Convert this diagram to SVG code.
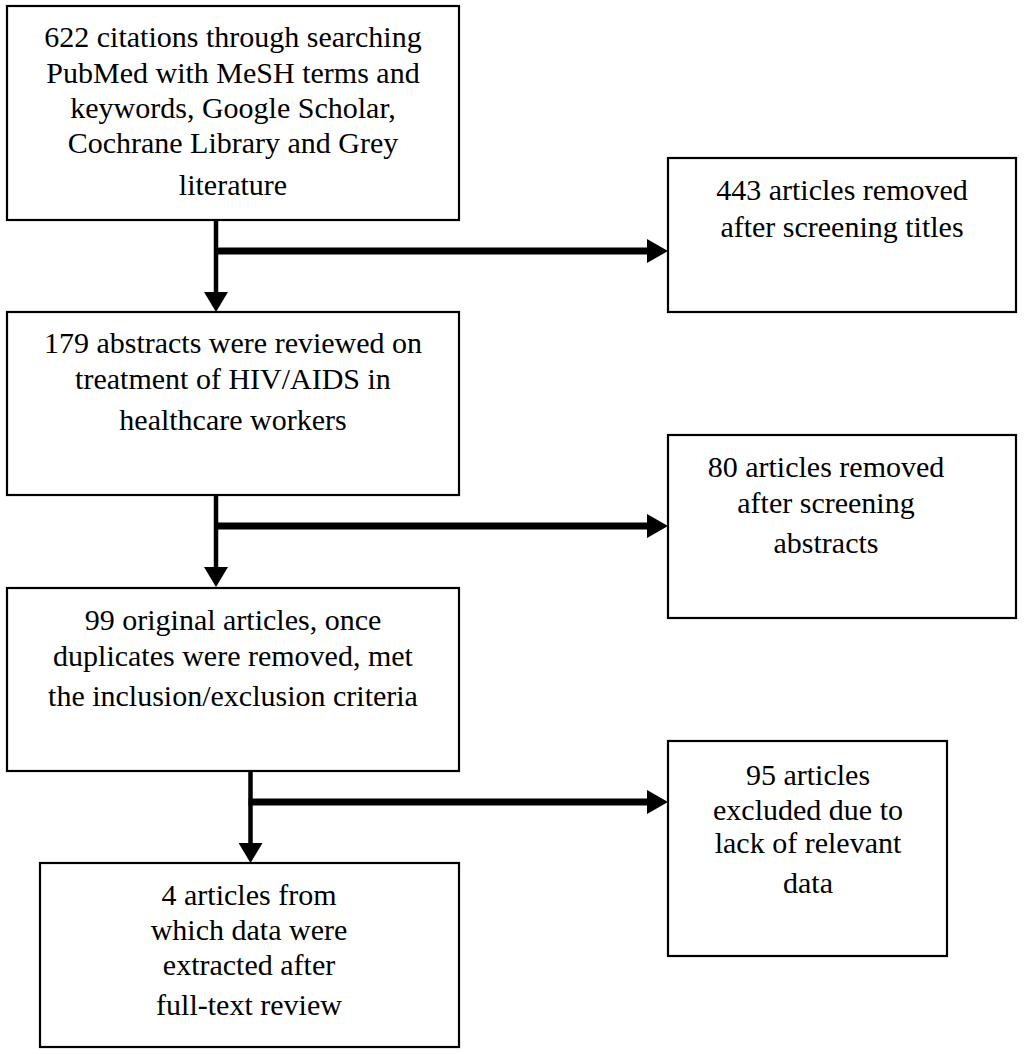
<svg xmlns="http://www.w3.org/2000/svg" width="1024" height="1054" viewBox="0 0 1024 1054">
<defs>
<style>
.box{fill:#fff;stroke:#000;stroke-width:2.2}
.t{font-family:"Liberation Serif","Times New Roman",serif;font-size:30px;fill:#000;text-anchor:middle}
.v{fill:none;stroke:#000;stroke-width:4.5}
.h{fill:none;stroke:#000;stroke-width:7}
</style>
<marker id="ah" viewBox="0 0 21 24" refX="5" refY="12" markerWidth="21" markerHeight="24" markerUnits="userSpaceOnUse" orient="auto">
<path d="M0,0 L21,12 L0,24 Z" fill="#000"/>
</marker>
<marker id="av" viewBox="0 0 20 24" refX="6" refY="12" markerWidth="20" markerHeight="24" markerUnits="userSpaceOnUse" orient="auto">
<path d="M0,0 L20,12 L0,24 Z" fill="#000"/>
</marker>
</defs>
<rect width="1024" height="1054" fill="#fff"/>
<g id="connectors">
<path class="v" d="M216,219 V298" marker-end="url(#av)"/>
<path class="h" d="M214,251 H652" marker-end="url(#ah)"/>
<path class="v" d="M216,493 V573" marker-end="url(#av)"/>
<path class="h" d="M214,526 H652" marker-end="url(#ah)"/>
<path class="v" d="M250.5,770 V849" marker-end="url(#av)"/>
<path class="h" d="M248.5,802 H652" marker-end="url(#ah)"/>
</g>
<g id="n1">
<rect class="box" x="7" y="6" width="452" height="214"/>
<text class="t" x="233" y="47">622 citations through searching</text>
<text class="t" x="233" y="83">PubMed with MeSH terms and</text>
<text class="t" x="233" y="118">keywords, Google Scholar,</text>
<text class="t" x="233" y="153">Cochrane Library and Grey</text>
<text class="t" x="233" y="195">literature</text>
</g>
<g id="n2">
<rect class="box" x="668" y="158" width="348" height="154"/>
<text class="t" x="842" y="200">443 articles removed</text>
<text class="t" x="842" y="237">after screening titles</text>
</g>
<g id="n3">
<rect class="box" x="7" y="312" width="452" height="183"/>
<text class="t" x="233" y="353">179 abstracts were reviewed on</text>
<text class="t" x="233" y="389">treatment of HIV/AIDS in</text>
<text class="t" x="233" y="430">healthcare workers</text>
</g>
<g id="n4">
<rect class="box" x="668" y="435" width="348" height="183"/>
<text class="t" x="826" y="477">80 articles removed</text>
<text class="t" x="826" y="513">after screening</text>
<text class="t" x="826" y="553">abstracts</text>
</g>
<g id="n5">
<rect class="box" x="7" y="588" width="452" height="183"/>
<text class="t" x="233" y="630">99 original articles, once</text>
<text class="t" x="233" y="666">duplicates were removed, met</text>
<text class="t" x="233" y="706">the inclusion/exclusion criteria</text>
</g>
<g id="n6">
<rect class="box" x="668" y="741" width="279" height="215"/>
<text class="t" x="808" y="785">95 articles</text>
<text class="t" x="808" y="820">excluded due to</text>
<text class="t" x="808" y="853">lack of relevant</text>
<text class="t" x="808" y="893">data</text>
</g>
<g id="n7">
<rect class="box" x="40" y="863" width="419" height="184"/>
<text class="t" x="249" y="905">4 articles from</text>
<text class="t" x="249" y="940">which data were</text>
<text class="t" x="249" y="975">extracted after</text>
<text class="t" x="249" y="1015">full-text review</text>
</g>
</svg>
